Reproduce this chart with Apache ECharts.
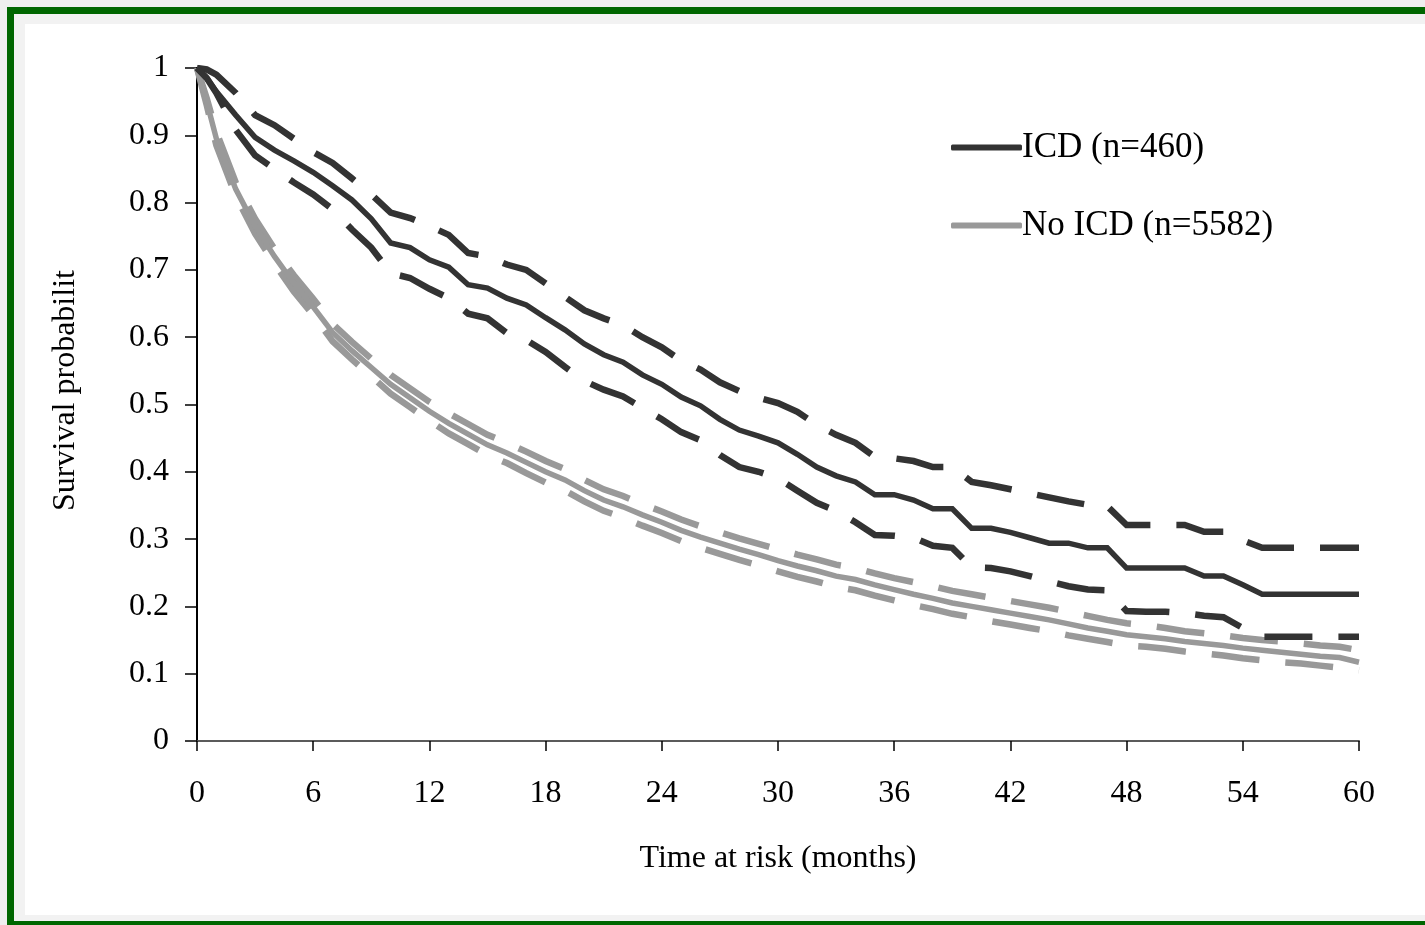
<!DOCTYPE html>
<html>
<head>
<meta charset="utf-8">
<script src="https://cdn.jsdelivr.net/npm/echarts@6/dist/echarts.min.js"></script>
<style>
html,body{margin:0;padding:0;background:#efefef;}
#chart{width:1425px;height:925px;}
</style>
</head>
<body>
<div id="chart"></div>
<script>
// ---- data ----
const months = [0, 0.5, 1, 2, 3, 4, 5, 6, 7, 8, 9, 10, 11, 12, 13, 14, 15, 16, 17, 18, 19, 20,
  21, 22, 23, 24, 25, 26, 27, 28, 29, 30, 31, 32, 33, 34, 35, 36, 37, 38, 39, 40,
  41, 42, 43, 44, 45, 46, 47, 48, 49, 50, 51, 52, 53, 54, 55, 56, 57, 58, 59, 60];

const icd = [1.0, 0.985, 0.965, 0.93, 0.897, 0.878, 0.862, 0.845, 0.825, 0.804, 0.776, 0.74,
  0.733, 0.715, 0.704, 0.678, 0.673, 0.658, 0.648, 0.629, 0.611, 0.59, 0.574, 0.563, 0.544,
  0.53, 0.511, 0.498, 0.478, 0.462, 0.453, 0.443, 0.426, 0.407, 0.394, 0.385, 0.366, 0.366,
  0.358, 0.345, 0.345, 0.316, 0.316, 0.31, 0.302, 0.294, 0.294, 0.287, 0.287, 0.257, 0.257,
  0.257, 0.257, 0.245, 0.245, 0.232, 0.218, 0.218, 0.218, 0.218, 0.218, 0.218];

const icdUpper = [1.0, 0.998, 0.99, 0.963, 0.93, 0.915, 0.895, 0.875, 0.859, 0.836, 0.812, 0.785,
  0.777, 0.765, 0.752, 0.725, 0.72, 0.708, 0.70, 0.68, 0.66, 0.64, 0.628, 0.618, 0.6,
  0.585, 0.565, 0.552, 0.533, 0.52, 0.51, 0.502, 0.489, 0.47, 0.455, 0.443, 0.422, 0.42,
  0.416, 0.407, 0.407, 0.385, 0.38, 0.374, 0.368, 0.362, 0.356, 0.351, 0.349, 0.321, 0.321,
  0.321, 0.321, 0.311, 0.311, 0.298, 0.287, 0.287, 0.287, 0.287, 0.287, 0.287];

const icdLower = [1.0, 0.985, 0.963, 0.908, 0.87, 0.85, 0.83, 0.812, 0.79, 0.76, 0.733, 0.695,
  0.688, 0.672, 0.658, 0.635, 0.628, 0.606, 0.596, 0.578, 0.556, 0.535, 0.522, 0.512, 0.495,
  0.478, 0.459, 0.447, 0.425, 0.407, 0.4, 0.39, 0.372, 0.354, 0.342, 0.325, 0.306, 0.305,
  0.302, 0.29, 0.287, 0.258, 0.257, 0.252, 0.245, 0.237, 0.23, 0.225, 0.224, 0.193, 0.192,
  0.192, 0.19, 0.186, 0.184, 0.168, 0.155, 0.155, 0.155, 0.155, 0.155, 0.155];

const noIcd = [1.0, 0.95, 0.895, 0.82, 0.765, 0.72, 0.68, 0.645, 0.607, 0.58, 0.555, 0.53,
  0.51, 0.49, 0.472, 0.456, 0.44, 0.428, 0.414, 0.4, 0.388, 0.372, 0.358, 0.348, 0.336,
  0.325, 0.313, 0.303, 0.294, 0.285, 0.277, 0.268, 0.26, 0.253, 0.245, 0.24, 0.232, 0.225,
  0.218, 0.212, 0.205, 0.2, 0.195, 0.19, 0.185, 0.18, 0.174, 0.168, 0.163, 0.158, 0.155,
  0.152, 0.148, 0.145, 0.142, 0.138, 0.135, 0.132, 0.129, 0.126, 0.124, 0.117];

const noIcdUpper = [1.0, 0.955, 0.905, 0.83, 0.776, 0.731, 0.692, 0.657, 0.62, 0.593, 0.568, 0.544,
  0.524, 0.504, 0.487, 0.471, 0.455, 0.443, 0.43, 0.416, 0.404, 0.388, 0.374, 0.364, 0.352,
  0.341, 0.329, 0.319, 0.31, 0.301, 0.293, 0.285, 0.277, 0.27, 0.262, 0.257, 0.249, 0.242,
  0.236, 0.23, 0.223, 0.218, 0.213, 0.208, 0.203, 0.198, 0.192, 0.186, 0.18, 0.175, 0.172,
  0.168, 0.163, 0.16, 0.157, 0.153, 0.15, 0.148, 0.145, 0.142, 0.14, 0.135];

const noIcdLower = [1.0, 0.945, 0.885, 0.81, 0.754, 0.709, 0.668, 0.633, 0.594, 0.567, 0.542, 0.516,
  0.496, 0.476, 0.457, 0.441, 0.425, 0.413, 0.398, 0.384, 0.372, 0.356, 0.342, 0.332, 0.32,
  0.309, 0.297, 0.287, 0.278, 0.269, 0.261, 0.252, 0.244, 0.237, 0.229, 0.224, 0.216, 0.209,
  0.202, 0.196, 0.189, 0.184, 0.178, 0.173, 0.168, 0.163, 0.157, 0.152, 0.147, 0.142, 0.14,
  0.137, 0.133, 0.13, 0.127, 0.123, 0.12, 0.117, 0.115, 0.112, 0.109, 0.105];

const seriesNames = ['ICD (n=460)', 'No ICD (n=5582)'];
const xTitle = 'Time at risk (months)';
const yTitle = 'Survival probabilit';

// ---- chart ----
const FONT = "'Liberation Serif', 'Times New Roman', serif";
const DARK = '#333333';
const GREY = '#999999';
const DASH = [48, 26];

function pts(vals) { return months.map((m, i) => [m, vals[i]]); }

const chart = echarts.init(document.getElementById('chart'), null, { renderer: 'canvas' });

function line(name, vals, color, dashed, z) {
  return {
    name: name,
    type: 'line',
    data: pts(vals),
    symbol: 'none',
    smooth: false,
    z: z,
    silent: true,
    lineStyle: {
      color: color,
      width: dashed ? 6.5 : 5.5,
      type: dashed ? DASH : 'solid',
      cap: 'butt',
      join: 'miter'
    },
    itemStyle: { color: color }
  };
}

chart.setOption({
  animation: false,
  backgroundColor: '#efefef',
  graphic: [
    {
      type: 'rect', z: -10, silent: true,
      shape: { x: 10.5, y: 10.5, width: 1430, height: 914 },
      style: { fill: '#f2f2f2', stroke: '#006600', lineWidth: 7 }
    },
    {
      type: 'rect', z: -9, silent: true,
      shape: { x: 25, y: 24, width: 1400, height: 891 },
      style: { fill: '#ffffff' }
    }
  ],
  grid: { left: 197, top: 68, right: 66, bottom: 184, containLabel: false },
  legend: {
    left: 946, top: 125,
    orient: 'vertical',
    icon: 'roundRect',
    itemWidth: 71, itemHeight: 6, itemGap: 43,
    data: seriesNames,
    textStyle: { fontFamily: FONT, fontSize: 35, color: '#000', padding: [0, 0, 0, -5] },
    selectedMode: false
  },
  xAxis: [
    {
      type: 'value', min: 0, max: 60, interval: 6,
      name: xTitle, nameLocation: 'middle', nameGap: 102,
      nameTextStyle: { fontFamily: FONT, fontSize: 32, color: '#000' },
      axisLine: { lineStyle: { color: '#000', width: 1.5 } },
      axisTick: { show: true, length: 10, lineStyle: { color: '#000', width: 1.5 } },
      axisLabel: { fontFamily: FONT, fontSize: 32, color: '#000', margin: 37 },
      splitLine: { show: false }
    },
    {
      type: 'value', min: 0, max: 60, position: 'top',
      axisLine: { show: true, lineStyle: { color: '#666', width: 1.5 } },
      axisTick: { show: false }, axisLabel: { show: false }, splitLine: { show: false }
    }
  ],
  yAxis: [
    {
      type: 'value', min: 0, max: 1, interval: 0.1,
      name: yTitle, nameLocation: 'middle', nameGap: 115, nameRotate: 90,
      nameTextStyle: { fontFamily: FONT, fontSize: 32, color: '#000', padding: [0, 0, 0, 28] },
      axisLine: { show: true, lineStyle: { color: '#000', width: 1.5 } },
      axisTick: { show: true, length: 12, lineStyle: { color: '#000', width: 1.5 } },
      axisLabel: { fontFamily: FONT, fontSize: 32, color: '#000', margin: 28 },
      splitLine: { show: false }
    },
    {
      type: 'value', min: 0, max: 1, position: 'right',
      axisLine: { show: true, lineStyle: { color: '#000', width: 2 } },
      axisTick: { show: false }, axisLabel: { show: false }, splitLine: { show: false }
    }
  ],
  series: [
    line('No ICD upper', noIcdUpper, GREY, true, 2),
    line('No ICD lower', noIcdLower, GREY, true, 2),
    line(seriesNames[1], noIcd, GREY, false, 3),
    line('ICD upper', icdUpper, DARK, true, 4),
    line('ICD lower', icdLower, DARK, true, 4),
    line(seriesNames[0], icd, DARK, false, 5)
  ]
});
</script>
</body>
</html>
